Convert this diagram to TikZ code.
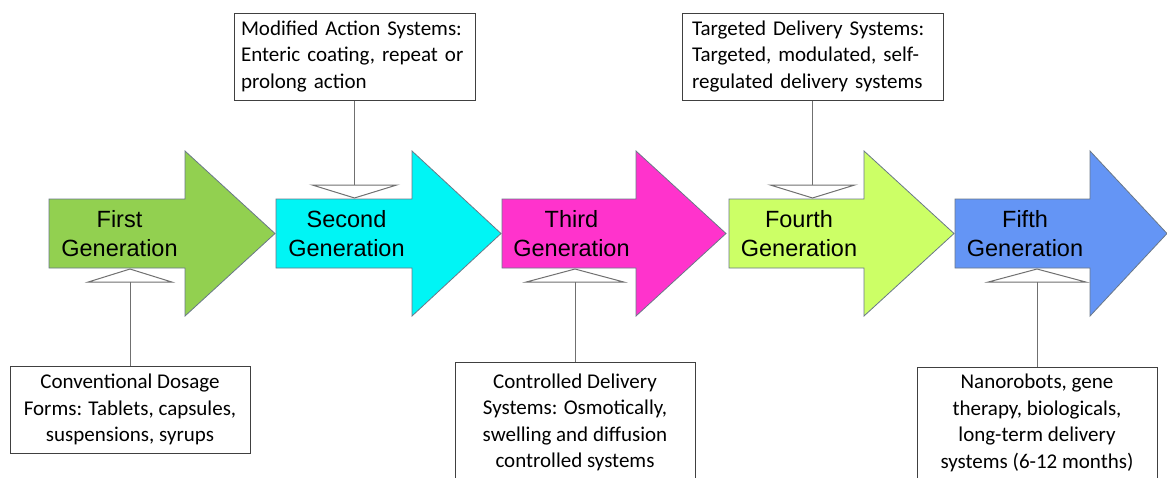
\documentclass[tikz,border=0pt]{standalone}
\usepackage{fontspec}
\setmainfont{Carlito}
\newfontfamily\arialf{Liberation Sans}
\usetikzlibrary{arrows.meta}
\definecolor{cgreen}{HTML}{92D050}
\definecolor{ccyan}{HTML}{00F5F5}
\definecolor{cmagenta}{HTML}{FF33CC}
\definecolor{clime}{HTML}{CCFF66}
\definecolor{cblue}{HTML}{6495F5}
\definecolor{arrowline}{HTML}{6A7888}
\definecolor{boxline}{HTML}{404040}
\definecolor{connline}{HTML}{707070}
\begin{document}
\begin{tikzpicture}[x=1pt,y=-1pt,
  genarrow/.style={draw=arrowline, line width=0.8pt},
  gentext/.style={font=\arialf\fontsize{23.5}{29}\selectfont, align=center, inner sep=0pt, text=black},
  infobox/.style={draw=boxline, line width=1pt, fill=white, font=\fontsize{21}{26.5}\selectfont, inner sep=0pt, text=black},
  conn/.style={draw=connline, line width=1pt, -{Triangle[open, length=14pt, width=#1]}}
]
\clip (0,0) rectangle (1167,477);
\fill[white] (0,0) rectangle (1167,477);

% generation arrows
\foreach \x/\h/\t/\c/\n/\txt in {
  49/185/275/cgreen/g1/{First\\Generation},
  276/412/501/ccyan/g2/{Second\\Generation},
  502/636/726/cmagenta/g3/{Third\\Generation},
  729/864/954/clime/g4/{Fourth\\Generation},
  955/1090/1167/cblue/g5/{Fifth\\Generation}}{
  \draw[genarrow, fill=\c] (\x,199) -- (\h,199) -- (\h,151) -- (\t,233.5) -- (\h,316) -- (\h,268) -- (\x,268) -- cycle;
  \node[gentext] (\n) at ({(\x+\h)/2+2.5},233.5) {\txt};
}

% apex points on the arrow bodies
\coordinate (t1) at (130,268.5);
\coordinate (t2) at (354.5,198.5);
\coordinate (t3) at (575,268.5);
\coordinate (t4) at (812.5,198.5);
\coordinate (t5) at (1037,268.5);

% information boxes
\node[infobox, minimum width=240pt, minimum height=87pt, align=center] (b1) at (130,409.5)
  {Conventional Dosage\\Forms: Tablets, capsules,\\suspensions, syrups};
\node[infobox, minimum width=241pt, minimum height=87pt, text width=227pt, align=left] (b2) at (354.5,56.5)
  {Modified Action Systems:\\Enteric coating, repeat or\\prolong action};
\node[infobox, minimum width=240pt, minimum height=121pt, align=center] (b3) at (575,422.5)
  {Controlled Delivery\\Systems: Osmotically,\\swelling and diffusion\\controlled systems};
\node[infobox, minimum width=261pt, minimum height=87pt, text width=241pt, align=left] (b4) at (812.5,56.5)
  {\makebox[241pt][s]{Targeted Delivery Systems:}\\\makebox[241pt][s]{Targeted, modulated, self-}\\regulated delivery systems};
\node[infobox, minimum width=240pt, minimum height=112pt, align=center] (b5) at (1037,423)
  {Nanorobots, gene\\therapy, biologicals,\\long-term delivery\\systems (6-12 months)};

% connectors
\draw[conn=90pt] (b1) -- (t1);
\draw[conn=91pt] (b2) -- (t2);
\draw[conn=105pt] (b3) -- (t3);
\draw[conn=91pt] (b4) -- (t4);
\draw[conn=105pt] (b5) -- (t5);
\end{tikzpicture}
\end{document}
